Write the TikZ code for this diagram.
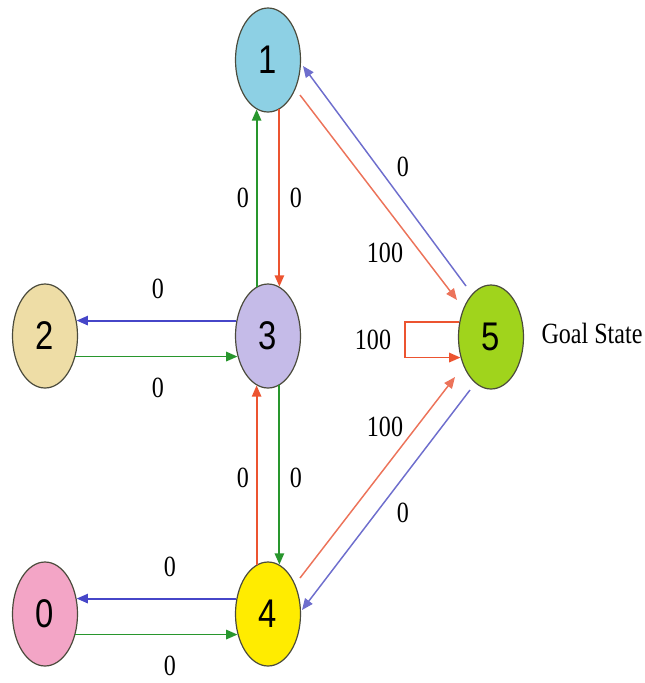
\documentclass[tikz,border=0pt]{standalone}
\usepackage{fontspec}
\usepackage{graphicx}
\setmainfont{Liberation Serif}
\newfontfamily\digitfont{Liberation Sans}
\usetikzlibrary{shapes.geometric,arrows.meta,calc}

% state fills
\definecolor{fillone}{RGB}{141,208,228}
\definecolor{filltwo}{RGB}{238,221,166}
\definecolor{fillthree}{RGB}{197,187,232}
\definecolor{fillfive}{RGB}{160,212,28}
\definecolor{fillzero}{RGB}{243,165,198}
\definecolor{fillfour}{RGB}{255,236,0}
\definecolor{rimc}{RGB}{75,75,60}
% connector colours
\definecolor{bluec}{RGB}{70,70,200}
\definecolor{greenc}{RGB}{40,150,45}
\definecolor{redc}{RGB}{236,84,48}
\definecolor{bluelt}{RGB}{110,110,205}
\definecolor{redlt}{RGB}{236,115,90}

\newcommand{\condensed}[1]{\scalebox{0.82}[1]{#1}}

\tikzset{
  state/.style={ellipse, draw=rimc, line width=0.9pt,
    minimum width=48.75pt, minimum height=78pt, inner sep=0pt,
    font=\digitfont\fontsize{30}{30}\selectfont},
  wt/.style={inner sep=0pt, font=\fontsize{22}{22}\selectfont},
  tip/.style={-{Triangle[length=8.5pt,width=7pt]}},
  link/.style={line width=1.4pt, tip},
  diag/.style={line width=1.1pt, tip},
}

\begin{document}
\begin{tikzpicture}[x=0.75pt,y=-0.75pt]
\useasboundingbox (0,0) rectangle (645,683);

% states
\node[state, fill=fillone]   (n1) at (268,60)  {\condensed{1}};
\node[state, fill=filltwo]   (n2) at (45,336)  {\condensed{2}};
\node[state, fill=fillthree] (n3) at (268,336) {\condensed{3}};
\node[state, fill=fillfive]  (n5) at (491,337) {\condensed{5}};
\node[state, fill=fillzero]  (n0) at (45,614)  {\condensed{0}};
\node[state, fill=fillfour]  (n4) at (268,614) {\condensed{4}};

\node[wt] (goal) at (592,333) {\condensed{Goal State}};

% horizontal pairs
\draw[link, draw=bluec, fill=bluec]   (n3.154) -- (n2.26);
\draw[link, draw=greenc, fill=greenc] (n2.-34) -- (n3.214);
\draw[link, draw=bluec, fill=bluec]   (n4.154) -- (n0.26);
\draw[link, draw=greenc, fill=greenc] (n0.-34) -- (n4.214);

% vertical pairs
\draw[link, draw=greenc, fill=greenc] (n3.103) -- (n1.257);
\draw[link, draw=redc, fill=redc]     (n1.283) -- (n3.77);
\draw[link, draw=redc, fill=redc]     (n4.103) -- (n3.257);
\draw[link, draw=greenc, fill=greenc] (n3.283) -- (n4.77);

% diagonals to and from the goal
\draw[diag, draw=redlt, fill=redlt]   ($(n1.center)+(32,35)$)  -- ($(n5.center)+(-34,-37)$);
\draw[diag, draw=bluelt, fill=bluelt] ($(n5.center)+(-25,-51)$) -- ($(n1.center)+(35,6)$);
\draw[diag, draw=redlt, fill=redlt]   ($(n4.center)+(32,-36)$) -- ($(n5.center)+(-36,40)$);
\draw[diag, draw=bluelt, fill=bluelt] ($(n5.center)+(-21,53)$)  -- ($(n4.center)+(34,-4)$);

% self loop on the goal
\coordinate (loopleft) at ($(n5.center)+(-86,0)$);
\draw[link, draw=redc] (n5.154) -- (n5.154 -| loopleft) -- (n5.214 -| loopleft) -- (n5.214);

% weights
\node[wt] (w32) at (158,289) {\condensed{0}};
\node[wt] (w23) at (158,388) {\condensed{0}};
\node[wt] (w40) at (170,567) {\condensed{0}};
\node[wt] (w04) at (170,666) {\condensed{0}};
\node[wt] (w31) at (243,198) {\condensed{0}};
\node[wt] (w13) at (296,198) {\condensed{0}};
\node[wt] (w43) at (243,478) {\condensed{0}};
\node[wt] (w34) at (296,478) {\condensed{0}};
\node[wt] (w51) at (403,167) {\condensed{0}};
\node[wt] (w15) at (385,253) {\condensed{100}};
\node[wt] (w45) at (385,427) {\condensed{100}};
\node[wt] (w54) at (403,513) {\condensed{0}};
\node[wt] (w55) at (373,340) {\condensed{100}};
\end{tikzpicture}
\end{document}
